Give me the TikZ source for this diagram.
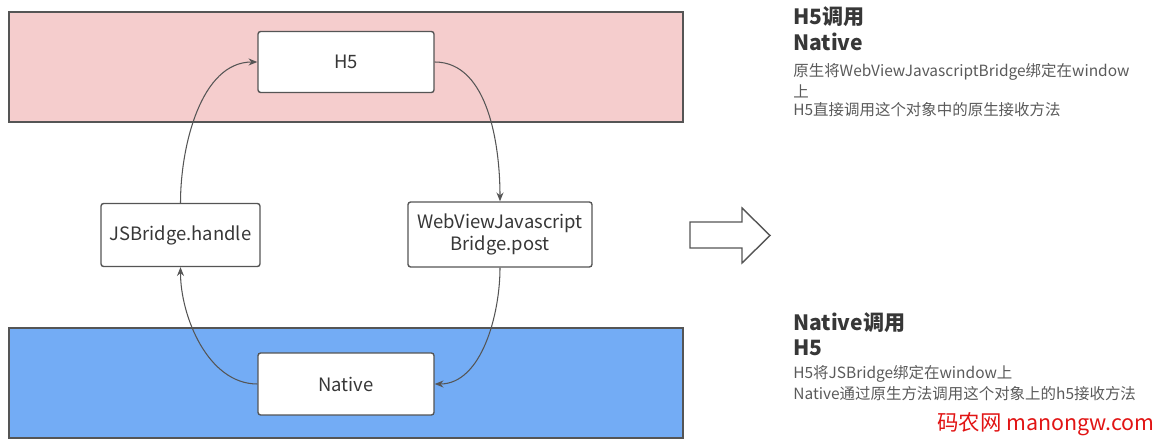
\documentclass[tikz,border=0pt]{standalone}
\usepackage{fontspec}
\setmainfont{Noto Sans CJK SC}
\usepackage{tikz}
\usetikzlibrary{arrows.meta}

\definecolor{bandpink}{RGB}{245,205,205}
\definecolor{bandblue}{RGB}{115,172,245}
\definecolor{edgegray}{RGB}{85,85,85}
\definecolor{textgray}{RGB}{90,90,90}
\definecolor{headgray}{RGB}{55,55,55}
\definecolor{markred}{RGB}{225,20,20}

\begin{document}
\begin{tikzpicture}[x=0.02cm, y=-0.02cm,
    band/.style={draw=edgegray, line width=0.9pt},
    stagebox/.style={draw=edgegray, line width=0.8pt, fill=white, rounded corners=1.5pt,
        inner sep=0pt, align=center, text=headgray, font=\fontsize{10.5}{13}\selectfont},
    flow/.style={draw=edgegray, line width=0.6pt, -{Stealth[length=5pt,width=4pt]}},
    headline/.style={anchor=west, inner sep=0pt, text=headgray, font=\fontsize{12}{14}\selectfont\bfseries},
    noteline/.style={anchor=west, inner sep=0pt, text=textgray, font=\fontsize{8.8}{10}\selectfont}]
    \useasboundingbox (0,0) rectangle (1167,445);

    % layers
    \fill[bandpink] (9,12) rectangle (683,122);
    \draw[band] (9,12) rectangle (683,122);
    \fill[bandblue] (9,328) rectangle (683,438);
    \draw[band] (9,328) rectangle (683,438);

    % stages
    \node[stagebox, minimum width=3.52cm, minimum height=1.22cm] (h5) at (346,62) {H5};
    \node[stagebox, minimum width=3.18cm, minimum height=1.26cm] (handle) at (180.5,235) {JSBridge.handle};
    \node[stagebox, minimum width=3.68cm, minimum height=1.3cm] (post) at (500,234.5) {WebViewJavascript\\Bridge.post};
    \node[stagebox, minimum width=3.52cm, minimum height=1.24cm] (native) at (346,384) {Native};

    % calls
    \draw[flow] (handle.north) to[out=90, in=180, looseness=0.9] (h5.west);
    \draw[flow] (h5.east) to[out=0, in=90, looseness=0.9] (post.north);
    \draw[flow] (post.south) to[out=-90, in=0, looseness=0.9] (native.east);
    \draw[flow] (native.west) to[out=180, in=-90, looseness=0.9] (handle.south);

    % hollow arrow
    \draw[draw=edgegray, line width=0.8pt, fill=white]
        (690,222) -- (742,222) -- (742,208) -- (770,235.5) -- (742,263) -- (742,248) -- (690,248) -- cycle;

    % notes
    \node[headline] (t1) at (793,17) {H5调用};
    \node[headline] (t2) at (793,42) {Native};
    \node[noteline] (t3) at (793,72) {原生将WebViewJavascriptBridge绑定在window};
    \node[noteline] (t4) at (793,91) {上};
    \node[noteline] (t5) at (793,110) {H5直接调用这个对象中的原生接收方法};

    \node[headline] (b1) at (793,323) {Native调用};
    \node[headline] (b2) at (793,348) {H5};
    \node[noteline] (b3) at (793,374) {H5将JSBridge绑定在window上};
    \node[noteline] (b4) at (793,394) {Native通过原生方法调用这个对象上的h5接收方法};

    \node[anchor=west, inner sep=0pt, text=markred, font=\fontsize{12.2}{14}\selectfont] (mark) at (937,424) {码农网 manongw.com};
\end{tikzpicture}
\end{document}
